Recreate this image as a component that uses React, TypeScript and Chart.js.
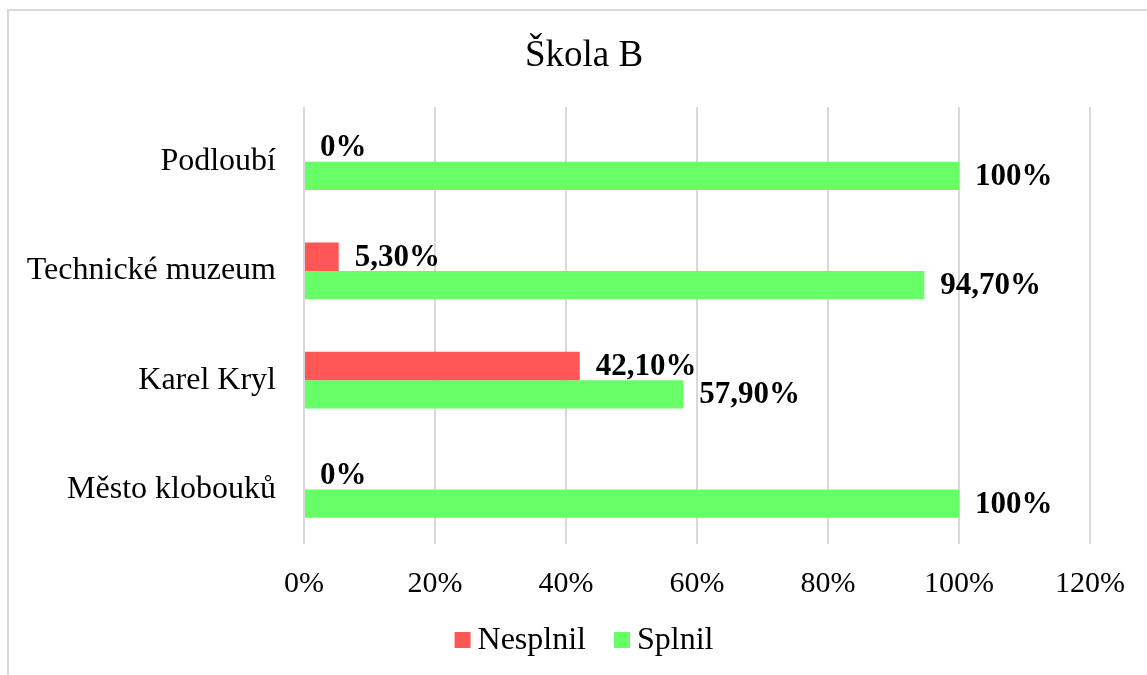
import React, { useEffect, useRef } from "react";
import { Chart, registerables } from "chart.js";

Chart.register(...registerables);

const categories = ["Podloubí", "Technické muzeum", "Karel Kryl", "Město klobouků"];
const seriesNames = ["Nesplnil", "Splnil"];
const nesplnil = [0, 5.3, 42.1, 0];
const splnil = [100, 94.7, 57.9, 100];
const seriesColors = ["rgb(255,87,87)", "rgb(102,255,102)"];
const axisMax = 120;
const axisStep = 20;
const titleText = "Škola B";

const FONT = "'Liberation Serif', 'Times New Roman', serif";

const fmt = (v: number) =>
  Number.isInteger(v) ? `${v}%` : `${v.toFixed(2).replace(".", ",")}%`;

const framePlugin = {
  id: "frame",
  beforeDraw(chart: any) {
    const ctx = chart.ctx;
    ctx.save();
    ctx.strokeStyle = "#d9d9d9";
    ctx.lineWidth = 2;
    ctx.strokeRect(8, 10, chart.width + 20, chart.height + 20);
    ctx.restore();
  },
};

const dataLabelPlugin = {
  id: "dataLabels",
  afterDatasetsDraw(chart: any) {
    const ctx = chart.ctx;
    ctx.save();
    ctx.font = `bold 31px ${FONT}`;
    ctx.fillStyle = "#000";
    ctx.textAlign = "left";
    ctx.textBaseline = "middle";
    chart.data.datasets.forEach((ds: any, i: number) => {
      const meta = chart.getDatasetMeta(i);
      meta.data.forEach((bar: any, j: number) => {
        ctx.fillText(fmt(ds.data[j]), bar.x + 16, bar.y + 1);
      });
    });
    ctx.restore();
  },
};

const titleLegendPlugin = {
  id: "titleLegend",
  afterDraw(chart: any) {
    const ctx = chart.ctx;
    const cx = 584;
    ctx.save();
    // title
    ctx.font = `37px ${FONT}`;
    ctx.fillStyle = "#000";
    ctx.textAlign = "center";
    ctx.textBaseline = "alphabetic";
    ctx.fillText(titleText, cx, 66);
    // legend
    ctx.font = `32px ${FONT}`;
    ctx.textBaseline = "middle";
    ctx.textAlign = "left";
    const box = 16;
    const gapText = 7;
    const gapItem = 28;
    const items = chart.data.datasets.map((ds: any) => ({
      label: ds.label,
      color: ds.backgroundColor,
      w: ctx.measureText(ds.label).width,
    }));
    const total =
      items.reduce((s: number, it: any) => s + box + gapText + it.w, 0) +
      gapItem * (items.length - 1);
    const cy = 640;
    let x = cx - total / 2;
    items.forEach((it: any) => {
      ctx.fillStyle = it.color;
      ctx.fillRect(x, cy - box / 2, box, box);
      ctx.fillStyle = "#000";
      ctx.fillText(it.label, x + box + gapText, cy + 1);
      x += box + gapText + it.w + gapItem;
    });
    ctx.restore();
  },
};

export default function App() {
  const ref = useRef<HTMLCanvasElement>(null);

  useEffect(() => {
    if (!ref.current) return;
    const chart = new Chart(ref.current, {
      type: "bar",
      data: {
        labels: categories,
        datasets: [
          {
            label: seriesNames[0],
            data: nesplnil,
            backgroundColor: seriesColors[0],
            categoryPercentage: 0.52,
            barPercentage: 1,
          },
          {
            label: seriesNames[1],
            data: splnil,
            backgroundColor: seriesColors[1],
            categoryPercentage: 0.52,
            barPercentage: 1,
          },
        ],
      },
      options: {
        indexAxis: "y",
        animation: false,
        responsive: false,
        layout: { padding: { top: 107, left: 8, right: 55, bottom: 71 } },
        plugins: {
          legend: { display: false },
          tooltip: { enabled: false },
          title: { display: false },
        },
        scales: {
          x: {
            min: 0,
            max: axisMax,
            grid: { color: "#d9d9d9", lineWidth: 2, drawTicks: false },
            border: { display: false },
            ticks: {
              stepSize: axisStep,
              callback: (v: any) => `${v}%`,
              color: "#000",
              font: { family: FONT, size: 30 },
              padding: 22,
              maxRotation: 0,
            },
            afterFit: (s: any) => {
              s.height = 60;
            },
          },
          y: {
            grid: { display: false, drawTicks: false },
            border: { display: false },
            ticks: {
              color: "#000",
              font: { family: FONT, size: 32 },
              padding: 28,
            },
            afterFit: (s: any) => {
              s.width = 296;
            },
          },
        },
      },
      plugins: [framePlugin, dataLabelPlugin, titleLegendPlugin],
    });
    return () => chart.destroy();
  }, []);

  return (
    <div style={{ position: "fixed", left: 0, top: 0, width: 1147, height: 675, background: "#fff" }}>
      <canvas ref={ref} width={1147} height={675} style={{ display: "block" }} />
    </div>
  );
}
